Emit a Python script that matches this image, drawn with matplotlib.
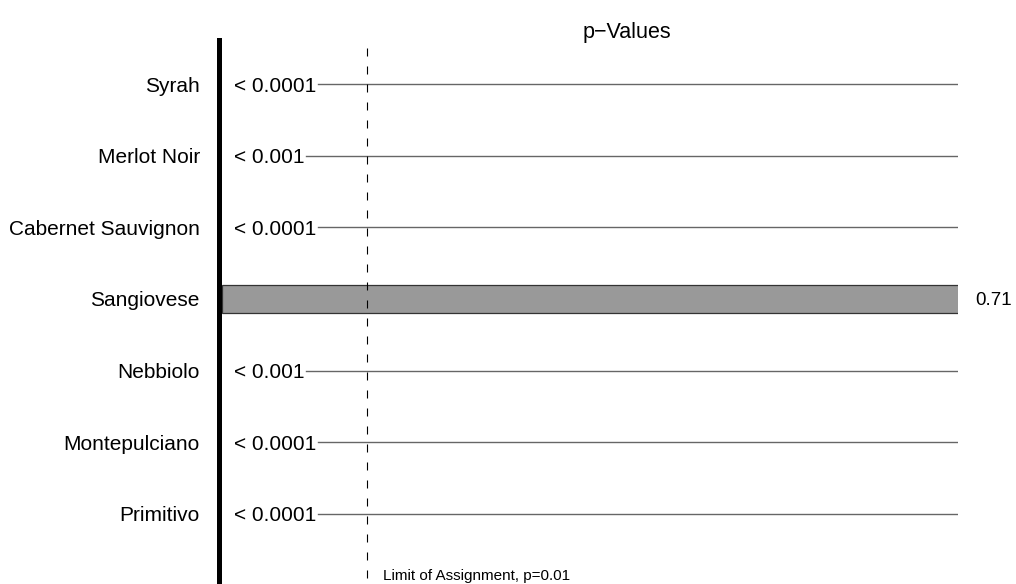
import matplotlib
matplotlib.use("Agg")
import matplotlib.pyplot as plt

plt.rcParams['font.family'] = ['Liberation Sans', 'DejaVu Sans']

# data, top to bottom
grapes = ["Syrah", "Merlot Noir", "Cabernet Sauvignon", "Sangiovese",
          "Nebbiolo", "Montepulciano", "Primitivo"]
p_labels = ["< 0.0001", "< 0.001", "< 0.0001", "0.71",
            "< 0.001", "< 0.0001", "< 0.0001"]
p_values = [0.0001, 0.001, 0.0001, 0.71, 0.001, 0.0001, 0.0001]
p_limit = 0.01
x_left = 0.0035   # left end of the log axis
x_right = 0.71

fig = plt.figure(figsize=(10.16, 5.84), dpi=100)
ax = fig.add_axes([222 / 1016, 0, 736 / 1016, 1 - 40 / 584])
ax.set_xscale('log')
ax.set_xlim(x_left, x_right)
ax.set_ylim(6.977, -0.614)

for s in ['top', 'right', 'bottom']:
    ax.spines[s].set_visible(False)
ax.spines['left'].set_linewidth(3.6)
ax.spines['left'].set_position(('outward', 2))
ax.set_xticks([])
ax.set_xticks([], minor=True)
ax.set_yticks(range(len(grapes)))
ax.set_yticklabels(grapes, fontsize=15)
ax.tick_params(axis='y', length=0, pad=14)

fig.canvas.draw()
renderer = fig.canvas.get_renderer()
inv = ax.transAxes.inverted()

for i, (p, lab) in enumerate(zip(p_values, p_labels)):
    if p > p_limit:
        # significant grape: gray bar with its p-value outside
        ax.barh(i, x_right, left=x_left, height=0.39, color='#999999',
                edgecolor='#333333', linewidth=0.9, zorder=1)
        ax.text(1.023, i, lab, transform=ax.get_yaxis_transform(),
                ha='left', va='center_baseline', fontsize=13.5, clip_on=False)
    else:
        # label then a thin line running to the right edge
        t = ax.text(0.016, i, lab, transform=ax.get_yaxis_transform(),
                    ha='left', va='center_baseline', fontsize=15)
        bb = t.get_window_extent(renderer)
        x0 = inv.transform((bb.x1 + 2, 0))[0]
        ax.plot([x0, 1.0], [i, i], transform=ax.get_yaxis_transform(),
                color='#666666', lw=1.0, zorder=1)

ax.plot([p_limit, p_limit], [-0.503, 6.977], color='black', lw=0.8,
        dashes=(7.2, 9), zorder=3, clip_on=False)
ax.text(p_limit * 1.12, 6.85, "Limit of Assignment, p=0.01", fontsize=11,
        ha='left', va='center_baseline')

fig.text(627 / 1016, 1 - 30 / 584, "p\u2212Values", fontsize=15.5,
         ha='center', va='center_baseline')

fig.savefig("out.png", dpi=100)
